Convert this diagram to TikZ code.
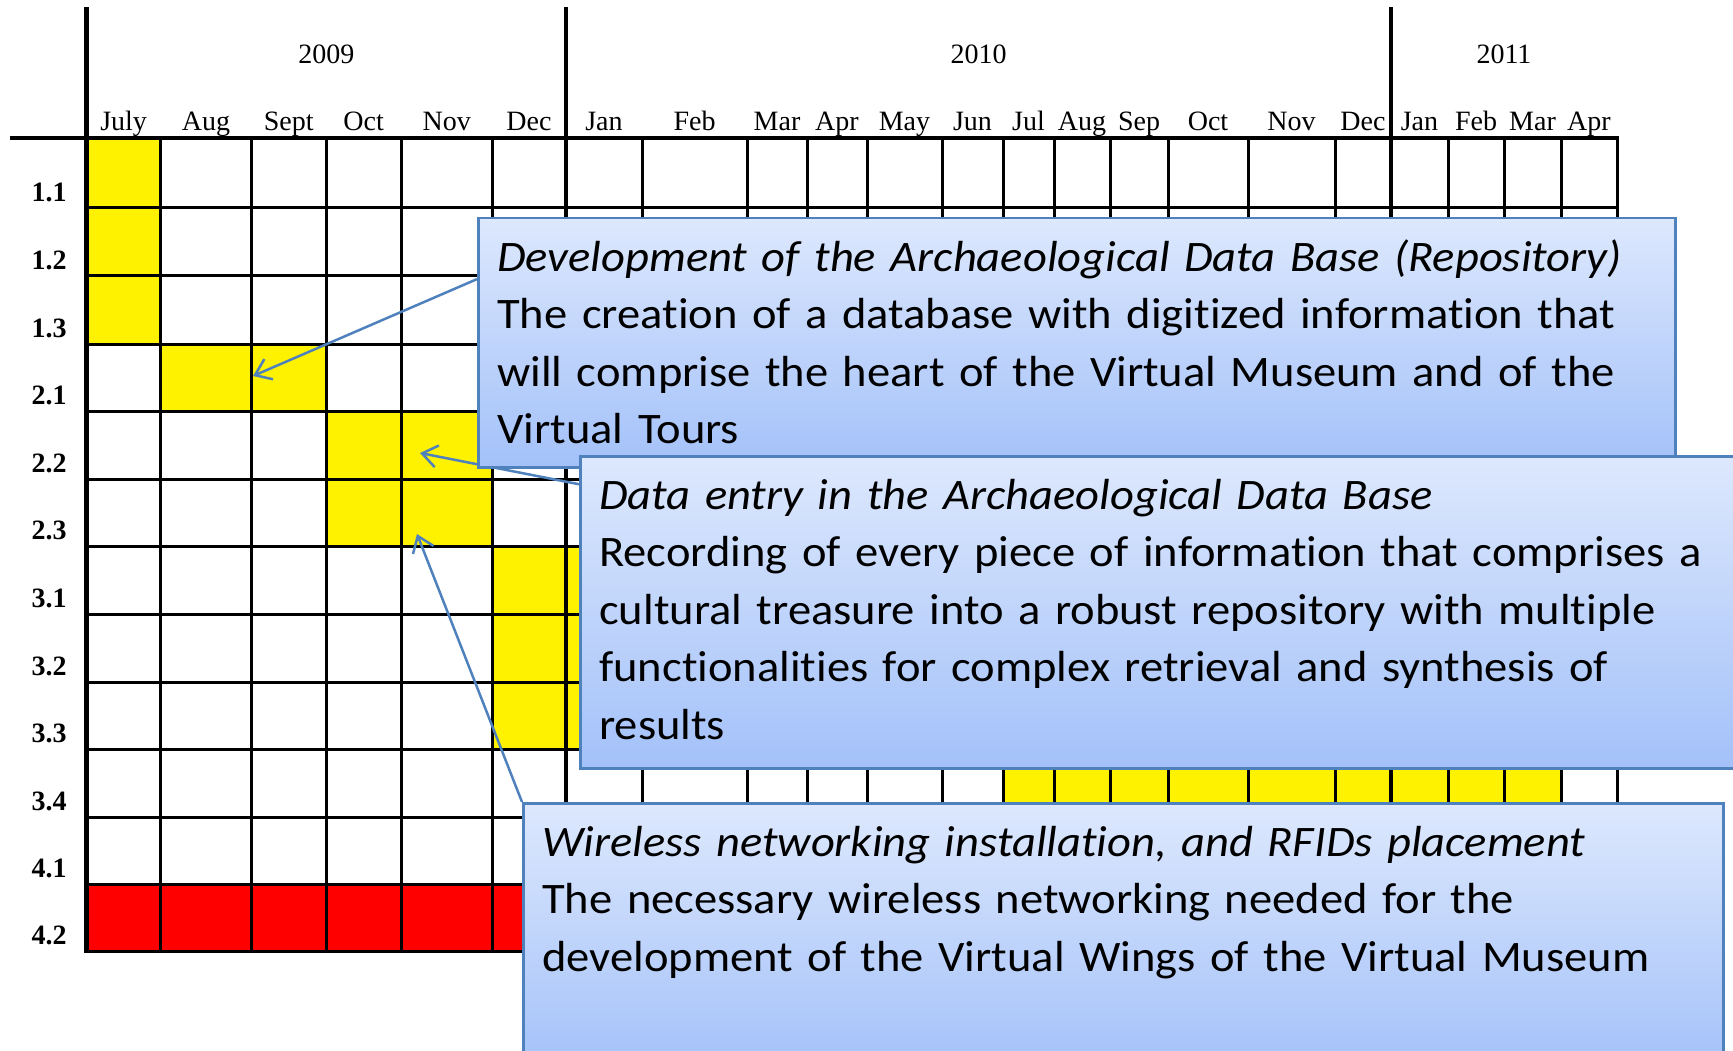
\documentclass[tikz,border=0pt]{standalone}
\usepackage{fontspec}
\setmainfont{Liberation Serif}
\newfontfamily\calloutfont[FakeStretch=1.07,Ligatures={NoCommon}]{Carlito}
\usetikzlibrary{calc,arrows.meta,backgrounds}
\definecolor{boxedge}{RGB}{79,129,189}
\definecolor{boxtop}{RGB}{221,232,253}
\definecolor{boxbottom}{RGB}{163,193,249}
\tikzset{
  callout/.style={draw=boxedge, line width=2.5pt, top color=boxtop, bottom color=boxbottom,
    anchor=north west, align=left, text width=#1, inner xsep=19pt, inner ysep=20pt,
    text height=33pt, font=\calloutfont\fontsize{43.5}{57.5}\selectfont},
  pointer/.style={draw=boxedge, line width=2.5pt, -{Straight Barb[length=15pt,width=22pt]}},
  thinrule/.style={line width=3pt, line cap=rect},
  yearrule/.style={line width=4.5pt, line cap=rect},
}
\begin{document}
\begin{tikzpicture}[x=1pt,y=-1pt,font=\fontsize{28}{32}\selectfont]
\useasboundingbox (0,0) rectangle (1733,1051);

\foreach \x [count=\i from 0] in {86.5,160.7,251.4,326,401.4,492,566,642,747,807,867,942,1003,1054,1110,1168,1248,1335,1391,1448,1504,1561,1617}
  \coordinate (c\i) at (\x,131);
\foreach \y [count=\j from 0] in {138,208,276,344,411,479,546,614,682,749,817,884,951}
  \coordinate (r\j) at (49,\y);

\begin{scope}[on background layer]
\fill[yellow] (c0 |- r0) rectangle (c1 |- r3);
\fill[yellow] (c1 |- r3) rectangle (c3 |- r4);
\fill[yellow] (c3 |- r4) rectangle (c5 |- r6);
\fill[yellow] (c5 |- r6) rectangle (c7 |- r9);
\fill[yellow] (c12 |- r9) rectangle (c21 |- r10);
\fill[red] (c0 |- r11) rectangle (c22 |- r12);

\foreach \j in {1,...,12}
  \draw[thinrule] (c0 |- r\j) -- (c22 |- r\j);
\foreach \i in {1,...,5,7,8,...,17,19,20,21,22}
  \draw[thinrule] (c\i |- r0) -- (c\i |- r12);
\draw[yearrule] (12,138) -- (c22 |- r0);
\foreach \i in {0,6,18}
  \draw[yearrule] (c\i |- 0,9) -- (c\i |- r12);
\end{scope}

\node[anchor=base] (y2009) at ($(c0)!0.5!(c6)+(0,-67)$) {2009};
\node[anchor=base] (y2010) at ($(c6)!0.5!(c18)+(0,-67)$) {2010};
\node[anchor=base] (y2011) at ($(c18)!0.5!(c22)+(0,-67)$) {2011};

\foreach \m [count=\i from 0] in {July,Aug,Sept,Oct,Nov,Dec,Jan,Feb,Mar,Apr,May,Jun,Jul,Aug,Sep,Oct,Nov,Dec,Jan,Feb,Mar,Apr}{
  \pgfmathtruncatemacro\k{\i+1}
  \node[anchor=base, inner sep=0pt] (mon\i) at ($(c\i)!0.5!(c\k)$) {\m};
}
\foreach \t [count=\j from 1] in {1.1,1.2,1.3,2.1,2.2,2.3,3.1,3.2,3.3,3.4,4.1,4.2}
  \node[anchor=base, inner sep=0pt, font=\bfseries\fontsize{28}{32}\selectfont] (row\j) at ($(r\j)+(0,-6.5)$) {\t};

\node[callout=1159pt, text depth=176pt] (dev) at (477,217)
  {\textit{Development of the Archaeological Data Base (Repository)}\\
   The creation of a database with digitized information that\\
   will comprise the heart of the Virtual Museum and of the\\
   Virtual Tours};
\node[callout=1143pt, text depth=239pt] (entry) at (579,455)
  {\textit{Data entry in the Archaeological Data Base}\\
   Recording of every piece of information that comprises a\\
   cultural treasure into a robust repository with multiple\\
   functionalities for complex retrieval and synthesis of\\
   results};
\node[callout=1162pt, text depth=195pt] (wifi) at (522,802)
  {\textit{Wireless networking installation, and RFIDs placement}\\
   The necessary wireless networking needed for the\\
   development of the Virtual Wings of the Virtual Museum};

\coordinate (tip1) at (253,376);
\coordinate (tip2) at (420,453);
\coordinate (tip3) at (417,534);

\begin{scope}[on background layer]
\draw[pointer] ($(dev.north west)!0.247!(dev.south west)$) -- (tip1);
\draw[pointer] ($(entry.north west)!0.093!(entry.south west)$) -- (tip2);
\draw[pointer] (wifi.north west) -- (tip3);
\end{scope}
\end{tikzpicture}
\end{document}
